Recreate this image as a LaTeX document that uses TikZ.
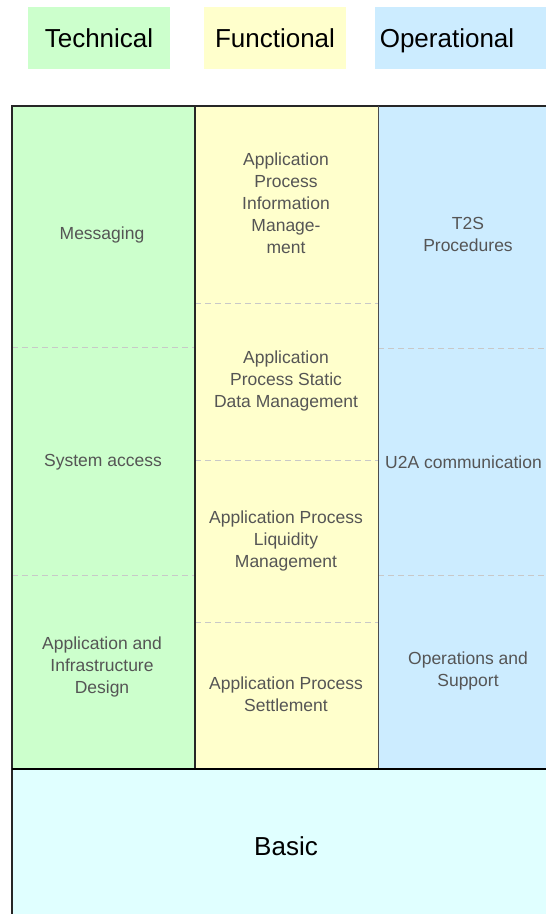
\documentclass[tikz,border=0pt]{standalone}
\usepackage{fontspec}
\setmainfont{Liberation Sans}
\definecolor{techgreen}{HTML}{CCFFCC}
\definecolor{funcyellow}{HTML}{FFFFCC}
\definecolor{opblue}{HTML}{CCECFF}
\definecolor{basiccyan}{HTML}{E0FFFF}
\definecolor{celltext}{HTML}{555555}
\definecolor{dashgray}{HTML}{C8C8C8}
\begin{document}
\begin{tikzpicture}[x=1pt,y=-1pt,
  hdr/.style={inner sep=0pt, anchor=base, font=\fontsize{26}{30}\selectfont, text=black},
  cell/.style={align=center, inner sep=0pt, font=\fontsize{17.5}{22}\selectfont, text=celltext},
  sep/.style={draw=dashgray, line width=1pt, dash pattern=on 6pt off 4pt},
  border/.style={draw=black!85, line width=1.5pt}]
\useasboundingbox (0,0) rectangle (546,914);
\fill[white] (0,0) rectangle (546,914);
% header boxes
\fill[techgreen] (28,7) rectangle (170,69);
\fill[funcyellow] (204,7) rectangle (346,69);
\fill[opblue] (375,7) rectangle (546,69);
\node[hdr] (hT) at (99,47) {Technical};
\node[hdr] (hF) at (275,47) {Functional};
\node[hdr] (hO) at (447,47) {Operational};
% columns
\fill[techgreen] (12,106) rectangle (195,769);
\fill[funcyellow] (195,106) rectangle (378,769);
\fill[opblue] (378,106) rectangle (546,769);
\fill[basiccyan] (12,769) rectangle (546,914);
% dashed separators
\coordinate (g1l) at (12,347); \coordinate (g1r) at (195,347);
\coordinate (g2l) at (12,575); \coordinate (g2r) at (195,575);
\coordinate (y1l) at (195,303); \coordinate (y1r) at (378,303);
\coordinate (y2l) at (195,460); \coordinate (y2r) at (378,460);
\coordinate (y3l) at (195,622); \coordinate (y3r) at (378,622);
\coordinate (b1l) at (378,348); \coordinate (b1r) at (546,348);
\coordinate (b2l) at (378,575); \coordinate (b2r) at (546,575);
\draw[sep] (g1l) -- (g1r);
\draw[sep] (g2l) -- (g2r);
\draw[sep] (y1l) -- (y1r);
\draw[sep] (y2l) -- (y2r);
\draw[sep] (y3l) -- (y3r);
\draw[sep] (b1l) -- (b1r);
\draw[sep] (b2l) -- (b2r);
% borders
\draw[border] (546,106) -- (12,106) -- (12,914);
\draw[border] (195,106) -- (195,769);
\draw[draw=black!70, line width=1pt] (378,106) -- (378,769);
\draw[draw=black, line width=2pt] (12,769) -- (546,769);
% cell texts
\node[cell] (msg) at (102,235) {Messaging};
\node[cell] (sys) at (103,462) {System access};
\node[cell] (aid) at (102,667) {Application and\\Infrastructure\\Design};
\node[cell] (pim) at (286,203) {Application\\Process\\Information\\Manage-\\ment};
\node[cell] (psd) at (286,381) {Application\\Process Static\\Data Management};
\node[cell] (plm) at (286,541) {Application Process\\Liquidity\\Management};
\node[cell] (pst) at (286,694) {Application Process\\Settlement};
\node[cell] (t2s) at (468,234) {T2S\\Procedures};
\node[cell, anchor=west] (u2a) at (385,462) {U2A communication};
\node[cell] (ops) at (468,671) {Operations and\\Support};
\node[hdr] (basic) at (286,855) {Basic};
\end{tikzpicture}
\end{document}
